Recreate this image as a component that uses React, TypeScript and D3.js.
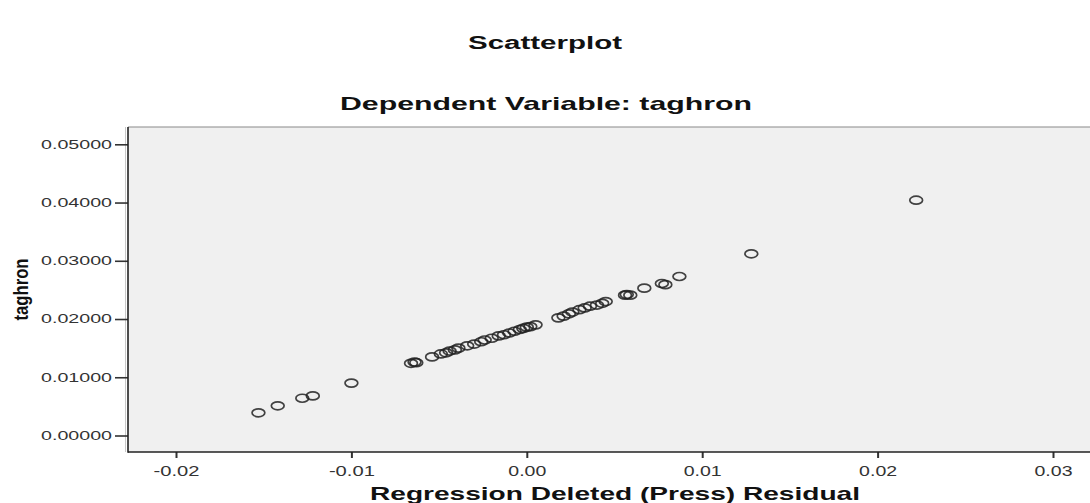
import React, { useEffect, useRef } from 'react';
import * as d3 from 'd3';

// Regression deleted (press) residual vs taghron
const residuals: number[] = [
  -0.0153, -0.0142, -0.0128, -0.0122, -0.01, -0.0066, -0.0064, -0.0063, -0.0054, -0.0049,
  -0.0046, -0.0044, -0.0041, -0.0039, -0.0034, -0.003, -0.0026, -0.0024, -0.002, -0.0016,
  -0.0013, -0.001, -0.0007, -0.0004, -0.0002, 0.0, 0.0002, 0.0005, 0.0018, 0.0021,
  0.0024, 0.0026, 0.003, 0.0033, 0.0036, 0.004, 0.0043, 0.0045, 0.0056, 0.0057,
  0.0059, 0.0067, 0.0077, 0.0079, 0.0087, 0.0128, 0.0222,
];
const taghron: number[] = [
  0.0039, 0.0051, 0.0064, 0.0068, 0.009, 0.0124, 0.0126, 0.0125, 0.0135, 0.014,
  0.0142, 0.0145, 0.0147, 0.015, 0.0154, 0.0157, 0.0161, 0.0164, 0.0167, 0.0171,
  0.0173, 0.0176, 0.0179, 0.0182, 0.0184, 0.0186, 0.0187, 0.019, 0.0202, 0.0205,
  0.0209, 0.0212, 0.0216, 0.0219, 0.0222, 0.0224, 0.0227, 0.023, 0.0241, 0.0242,
  0.0241, 0.0253, 0.0261, 0.0259, 0.0273, 0.0312, 0.0404,
];
const xTicks: number[] = [-0.02, -0.01, 0.0, 0.01, 0.02, 0.03];
const yTicks: number[] = [0.0, 0.01, 0.02, 0.03, 0.04, 0.05];

const title = 'Scatterplot';
const subtitle = 'Dependent Variable: taghron';
const xLabel = 'Regression Deleted (Press) Residual';
const yLabel = 'taghron';

const FONT = "'Liberation Sans', Arial, sans-serif";

const App: React.FC = () => {
  const svgRef = useRef<SVGSVGElement>(null);

  useEffect(() => {
    if (!svgRef.current) return;
    const width = 1090;
    const height = 503;
    const plot = { left: 128, top: 127, right: 1100, bottom: 452 };

    const svg = d3.select(svgRef.current);
    svg.selectAll('*').remove();
    svg.attr('width', width).attr('height', height);

    const x = d3.scaleLinear().domain([-0.02, 0.03]).range([176, 1053]);
    const y = d3.scaleLinear().domain([0, 0.05]).range([435.5, 144.3]);

    // Plot area
    svg.append('rect')
      .attr('x', plot.left)
      .attr('y', plot.top)
      .attr('width', plot.right - plot.left)
      .attr('height', plot.bottom - plot.top)
      .attr('fill', '#f0f0f0');
    svg.append('line')
      .attr('x1', plot.left).attr('x2', plot.right)
      .attr('y1', plot.top).attr('y2', plot.top)
      .attr('stroke', '#8a8a8a').attr('stroke-width', 1.2);
    svg.append('line')
      .attr('x1', plot.left - 2.5).attr('x2', plot.left - 2.5)
      .attr('y1', plot.top).attr('y2', plot.bottom)
      .attr('stroke', '#c8c8c8').attr('stroke-width', 1);

    // Points
    const pts = residuals.map((r, i) => ({ r, t: taghron[i] }));
    svg.append('g')
      .selectAll('ellipse')
      .data(pts)
      .enter()
      .append('ellipse')
      .attr('cx', (d) => x(d.r))
      .attr('cy', (d) => y(d.t))
      .attr('rx', 6.4)
      .attr('ry', 4.0)
      .attr('fill', 'none')
      .attr('stroke', '#222')
      .attr('stroke-width', 1.7)
      .attr('stroke-opacity', 0.85);

    // X axis
    const gx = svg.append('g')
      .attr('transform', `translate(0,${plot.bottom})`)
      .call(
        d3.axisBottom(x)
          .tickValues(xTicks)
          .tickSize(6)
          .tickSizeOuter(0)
          .tickPadding(5)
          .tickFormat((d) => d3.format('.2f')(d as number).replace('−', '-'))
      );
    gx.select('.domain').remove();
    gx.selectAll('.tick line').attr('stroke', '#333').attr('stroke-width', 2);
    gx.selectAll<SVGTextElement, number>('.tick text')
      .attr('fill', '#333')
      .style('font-family', FONT)
      .style('font-size', '14px')
      .attr('dy', '0.9em')
      .attr('textLength', (d) => (d < 0 ? 46 : 38))
      .attr('lengthAdjust', 'spacingAndGlyphs');

    // Y axis
    const gy = svg.append('g')
      .attr('transform', `translate(${plot.left},0)`)
      .call(
        d3.axisLeft(y)
          .tickValues(yTicks)
          .tickSize(13)
          .tickSizeOuter(0)
          .tickPadding(3)
          .tickFormat((d) => d3.format('.5f')(d as number))
      );
    gy.select('.domain').remove();
    gy.selectAll('.tick line').attr('stroke', '#333').attr('stroke-width', 1.6);
    gy.selectAll('.tick text')
      .attr('fill', '#333')
      .style('font-family', FONT)
      .style('font-size', '12px')
      .attr('textLength', 71)
      .attr('lengthAdjust', 'spacingAndGlyphs');

    // Axis lines
    svg.append('line')
      .attr('x1', plot.left).attr('x2', plot.left)
      .attr('y1', plot.top).attr('y2', plot.bottom + 0.8)
      .attr('stroke', '#222').attr('stroke-width', 1.6);
    svg.append('line')
      .attr('x1', plot.left).attr('x2', plot.right)
      .attr('y1', plot.bottom).attr('y2', plot.bottom)
      .attr('stroke', '#222').attr('stroke-width', 1.6);

    // Titles
    svg.append('text')
      .attr('x', 545).attr('y', 49)
      .attr('text-anchor', 'middle')
      .attr('textLength', 154)
      .attr('lengthAdjust', 'spacingAndGlyphs')
      .style('font-family', FONT).style('font-weight', 'bold').style('font-size', '18px')
      .attr('fill', '#111')
      .text(title);
    svg.append('text')
      .attr('x', 546).attr('y', 110)
      .attr('text-anchor', 'middle')
      .attr('textLength', 412)
      .attr('lengthAdjust', 'spacingAndGlyphs')
      .style('font-family', FONT).style('font-weight', 'bold').style('font-size', '19px')
      .attr('fill', '#111')
      .text(subtitle);
    svg.append('text')
      .attr('x', 615).attr('y', 500)
      .attr('text-anchor', 'middle')
      .attr('textLength', 490)
      .attr('lengthAdjust', 'spacingAndGlyphs')
      .style('font-family', FONT).style('font-weight', 'bold').style('font-size', '19px')
      .attr('fill', '#111')
      .text(xLabel);
    svg.append('text')
      .attr('transform', `translate(28,${(plot.top + plot.bottom) / 2}) rotate(-90)`)
      .attr('text-anchor', 'middle')
      .attr('textLength', 62)
      .attr('lengthAdjust', 'spacingAndGlyphs')
      .style('font-family', FONT).style('font-weight', 'bold').style('font-size', '21px')
      .attr('fill', '#111')
      .text(yLabel);

    return () => {
      svg.selectAll('*').remove();
    };
  }, []);

  return (
    <div style={{ position: 'absolute', left: 0, top: 0, width: 1090, height: 503, overflow: 'hidden', background: '#fff' }}>
      <svg ref={svgRef} style={{ display: 'block' }} />
    </div>
  );
};

export default App;
